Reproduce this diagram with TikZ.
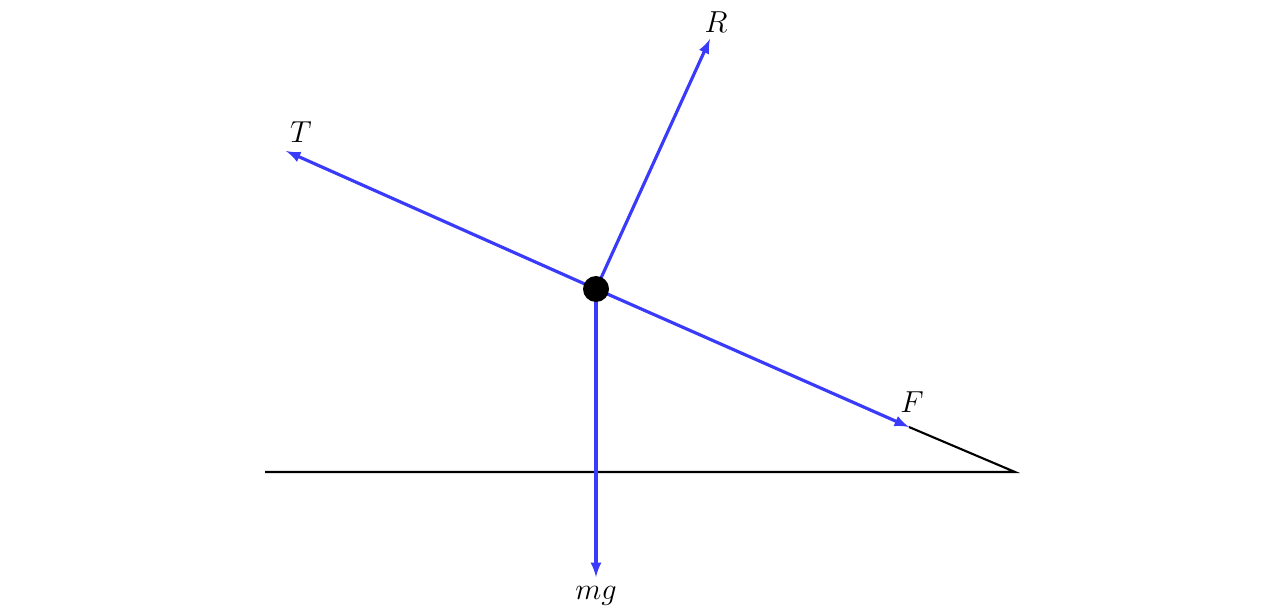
\documentclass[tikz,border=0pt]{standalone}
\usepackage{amsmath,amssymb}
\usepackage{xcolor}
\usepackage{tikz}
\usetikzlibrary{arrows}
\definecolor{force}{RGB}{58, 58, 250}

\begin{document}
\begin{tikzpicture}[x=0.02cm,y=-0.02cm,
    vec/.style={force,line width=1.8pt,-latex},
    lbl/.style={font=\fontsize{16}{18}\selectfont,inner sep=0pt}]
  \useasboundingbox (0,0) rectangle (1280,615);
  \coordinate (o) at (596,289);
  \coordinate (gl) at (265,472);
  \coordinate (gr) at (1015,472);
  \node [lbl] (T) at (301,132) {$T$};
  \node [lbl] (R) at (716,22) {$R$};
  \node [lbl] (F) at (912,402) {$F$};
  \node [lbl] (mg) at (596,596) {$mg$};
  \coordinate (Ttip) at (286,151);
  \coordinate (Rtip) at (710,39);
  \coordinate (Ftip) at (909,427);
  \coordinate (mgtip) at (596,577);
  \draw [line width=1.2pt] (gl) -- (gr) -- (Ftip);
  \path[vec]
    (o) edge (Ttip)
    (o) edge (Rtip)
    (o) edge (Ftip)
    (o) edge (mgtip);
  \node [circle,fill=black,inner sep=0pt,minimum size=0.52cm] (m) at (o) {};
\end{tikzpicture}
\end{document}
